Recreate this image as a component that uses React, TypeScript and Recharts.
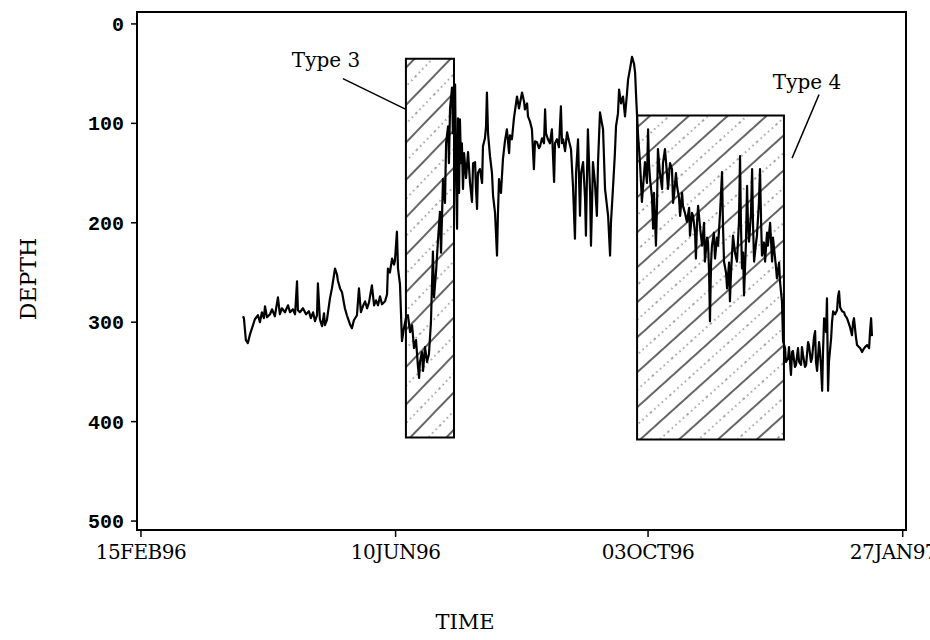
import {
  LineChart,
  Line,
  XAxis,
  YAxis,
  ReferenceArea,
  ReferenceLine,
  ReferenceDot,
  Label,
} from "recharts";

// time axis: days counted from 15FEB96
const tickDays = [0, 116, 231, 347];
const tickLabels = ["15FEB96", "10JUN96", "03OCT96", "27JAN97"];
const depthTicks = [0, 100, 200, 300, 400, 500];

// before the Type 3 period
const earlyDays = [
  46.5, 46.9, 47.8, 48.7, 49.7, 50.6, 51.9, 53.3, 54.2, 55.1, 56.0, 56.5, 57.4, 58.8, 59.7, 61.0,
  62.4, 63.3, 64.2, 65.6, 67.0, 67.9, 69.2, 70.2, 71.1, 71.5, 72.4, 73.8, 75.2, 76.5, 77.4, 78.4,
  79.3, 80.2, 80.6, 81.5, 82.5, 83.4, 83.8, 84.7, 86.1, 87.0, 88.4, 89.3, 89.7, 90.7, 91.6, 92.9,
  93.8, 95.2, 96.1, 97.0, 98.4, 99.3, 100.2, 101.1, 102.1, 103.0, 103.9, 105.2, 106.2, 107.1,
  108.0, 108.9, 109.8, 111.2, 112.1, 112.5, 113.4, 114.4, 115.3, 115.7, 116.6, 117.1, 118.0, 118.9,
];
const earlyDepth = [
  294, 296, 318, 321, 312, 306, 297, 293, 300, 290, 296, 284, 295, 292, 287, 294,
  275, 292, 286, 290, 283, 290, 287, 292, 259, 288, 290, 286, 292, 289, 296, 290,
  299, 293, 261, 297, 304, 291, 303, 298, 276, 266, 246, 252, 258, 266, 270, 286,
  293, 302, 306, 298, 293, 266, 290, 284, 279, 286, 280, 263, 283, 278,
  283, 274, 282, 279, 272, 246, 250, 236, 242, 238, 209, 246, 262, 319,
];

// Type 3 period
const type3Days = [
  119.8, 120.7, 121.6, 122.6, 123.5, 124.4, 125.3, 126.2, 126.7, 127.1, 128.0, 128.5, 129.4, 130.3,
  131.2, 132.1, 133.0, 133.5, 134.4, 135.3, 136.2, 136.7, 137.6, 138.5, 139.0, 139.9, 140.3, 140.8,
  141.7, 142.1, 143.1,
];
const type3Depth = [
  306, 296, 293, 310, 303, 326, 318, 345, 356, 340, 330, 349, 325, 340,
  332, 300, 229, 275, 250, 218, 189, 230, 156, 180, 120, 103, 140, 85,
  64, 110, 61,
];

// summer, between the two periods
const midDays = [
  143.5, 144.0, 144.4, 144.9, 145.3, 145.8, 146.2, 146.7, 147.2, 148.1, 149.0, 149.9, 150.8, 151.3,
  152.2, 152.6, 153.1, 153.5, 154.4, 155.4, 155.8, 156.7, 157.2, 157.6, 158.1, 159.0, 159.9, 160.4,
  161.3, 162.2, 162.6, 163.1, 164.0, 164.9, 165.8, 166.7, 167.7, 168.1, 169.0, 169.9, 171.3, 172.2,
  173.6, 174.5, 174.9, 175.9, 176.3, 177.2, 178.1, 179.0, 179.5, 180.4, 181.3, 181.8, 182.7, 183.6,
  184.1, 184.5, 185.4, 186.3, 187.2, 188.2, 188.6, 189.5, 190.4, 191.3, 191.8, 192.3, 193.2, 194.1,
  195.0, 195.9, 196.8, 197.7, 198.2, 199.1, 200.0, 200.5, 201.4, 202.3, 202.7, 203.2, 203.6, 204.6,
  205.0, 205.5, 205.9, 206.8, 207.7, 208.2, 209.1, 210.0, 210.5, 211.4, 212.8, 213.7, 214.1, 215.0,
  215.9, 216.4, 217.3, 217.8, 218.7, 219.6, 220.5, 221.4, 221.9, 222.8, 223.7, 224.6, 225.1, 225.5,
  226.0,
];
const midDepth = [
  150, 206, 95, 170, 96, 140, 120, 166, 130, 155, 129, 160, 179, 140,
  139, 165, 186, 150, 146, 160, 123, 115, 103, 69, 110, 133, 150, 173,
  190, 233, 193, 156, 170, 136, 118, 106, 130, 112, 116, 95, 73, 85,
  69, 78, 86, 80, 93, 98, 106, 146, 118, 119, 125, 123, 115, 120,
  86, 110, 116, 120, 106, 159, 120, 116, 124, 83, 120, 116, 128, 109,
  118, 126, 163, 216, 150, 116, 193, 150, 139, 175, 213, 150, 106, 170,
  223, 180, 139, 160, 193, 140, 89, 100, 106, 166, 193, 233, 200, 166,
  130, 103, 90, 66, 80, 73, 93, 70, 56, 45, 33, 40, 49, 70,
  93,
];

// Type 4 period
const type4Days = [
  226.4, 227.3, 227.8, 228.2, 229.2, 229.6, 230.5, 231.0, 231.4, 231.9, 232.8, 233.3, 233.7, 234.6,
  235.1, 235.5, 236.4, 237.4, 237.8, 238.7, 239.6, 240.1, 241.0, 241.9, 242.4, 242.8, 243.7, 244.2,
  245.1, 245.6, 246.5, 246.9, 247.8, 248.7, 249.7, 250.1, 251.0, 251.5, 252.4, 252.8, 253.3, 253.8,
  254.7, 255.6, 256.5, 256.9, 257.9, 258.3, 258.8, 259.2, 259.7, 260.1, 261.0, 261.5, 262.4, 262.9,
  263.8, 264.7, 265.1, 265.6, 266.5, 267.0, 267.9, 268.3, 268.8, 269.7, 270.6, 271.5, 272.4, 272.9,
  273.3, 273.8, 274.3, 274.7, 275.6, 276.1, 276.5, 277.0, 277.9, 278.4, 278.8, 279.3, 280.2, 280.6,
  281.5, 282.0, 282.5, 282.9, 283.8, 284.3, 285.2, 285.6, 286.6, 287.5, 287.9, 288.4, 289.3, 289.7,
  290.7, 291.1, 292.0,
];
const type4Depth = [
  110, 139, 160, 179, 150, 139, 160, 106, 140, 156, 175, 206, 170, 223,
  180, 126, 150, 166, 140, 126, 150, 166, 140, 146, 180, 173, 150, 163,
  175, 193, 170, 183, 190, 199, 185, 213, 190, 193, 210, 236, 200, 183,
  205, 223, 200, 239, 215, 219, 250, 299, 240, 223, 210, 236, 215, 223,
  190, 149, 200, 239, 250, 266, 240, 279, 250, 213, 230, 239, 200, 133,
  200, 246, 230, 273, 220, 163, 200, 219, 190, 146, 200, 239, 220, 213,
  180, 146, 200, 233, 220, 239, 210, 223, 200, 239, 215, 226, 245, 256,
  240, 259, 279,
];

// after the Type 4 period
const lateDays = [
  292.5, 293.4, 293.8, 294.8, 295.2, 296.1, 296.6, 297.0, 297.9, 298.4, 299.3, 299.8, 300.7, 301.1,
  301.6, 302.5, 303.0, 303.9, 304.3, 305.2, 305.7, 306.6, 307.1, 307.5, 308.0, 308.9, 309.3, 309.8,
  310.3, 310.7, 311.2, 312.1, 312.5, 313.0, 313.4, 314.4, 314.8, 315.3, 316.2, 317.1, 317.5, 318.0,
  318.5, 319.4, 320.3, 320.7, 321.6, 322.1, 323.0, 323.9, 324.4, 324.8, 325.7, 326.2, 327.1, 327.6,
  328.5, 328.9, 329.8, 330.8, 331.7, 332.1, 332.6, 333.0,
];
const lateDepth = [
  319, 326, 340, 336, 325, 353, 330, 329, 345, 343, 326, 340, 343, 325,
  333, 345, 343, 320, 323, 340, 336, 315, 309, 340, 349, 320, 329, 345,
  369, 330, 296, 310, 276, 369, 340, 316, 300, 289, 292, 288, 275, 269,
  285, 289, 290, 293, 296, 299, 305, 313, 300, 296, 315, 323, 325, 326,
  330, 328, 325, 323, 326, 310, 296, 314,
];

// shaded periods: [start day, end day, top depth, bottom depth]
const type3Box = [120.7, 142.6, 35, 416];
const type4Box = [226.0, 292.9, 92, 418];

const allDays = [...earlyDays, ...type3Days, ...midDays, ...type4Days, ...lateDays];
const allDepth = [...earlyDepth, ...type3Depth, ...midDepth, ...type4Depth, ...lateDepth];
const data = allDays.map((day, i) => ({ day, depth: allDepth[i] }));

const xDomain = [-1.8, 348.5];
const yDomain = [-12, 509];

const SERIF = "'DejaVu Serif', 'Liberation Serif', serif";
const MONO = "'Liberation Mono', 'DejaVu Sans Mono', monospace";

const axisLine = { stroke: "#000", strokeWidth: 2 };

export default function App() {
  return (
    <div style={{ position: "absolute", left: 0, top: 0, width: 930, height: 640, background: "#fff" }}>
      <LineChart
        width={930}
        height={640}
        data={data}
        margin={{ top: 12, right: 24, bottom: 70, left: 77 }}
      >
        <defs>
          <pattern id="hatch3" patternUnits="userSpaceOnUse" width="26" height="26" patternTransform="rotate(44)">
            <line x1="1" y1="0" x2="1" y2="26" stroke="#111" strokeWidth="1.3" />
            <line x1="14" y1="0" x2="14" y2="26" stroke="#444" strokeWidth="1" strokeDasharray="1.5 3.5" />
          </pattern>
          <pattern id="hatch4" patternUnits="userSpaceOnUse" width="26" height="26" patternTransform="rotate(48)">
            <line x1="1" y1="0" x2="1" y2="26" stroke="#111" strokeWidth="1.3" />
            <line x1="14" y1="0" x2="14" y2="26" stroke="#444" strokeWidth="1" strokeDasharray="1.5 3.5" />
          </pattern>
        </defs>

        <XAxis
          dataKey="day"
          type="number"
          domain={xDomain}
          allowDataOverflow
          ticks={tickDays}
          tickFormatter={(v) => tickLabels[tickDays.indexOf(v)] ?? ""}
          height={40}
          tickSize={7}
          tickMargin={8}
          axisLine={axisLine}
          tickLine={{ stroke: "#000", strokeWidth: 1.5 }}
          tick={{ fill: "#000", fontFamily: SERIF, fontSize: 20, letterSpacing: -0.5 }}
        >
          <Label
            content={({ viewBox }: any) => (
              <text
                x={viewBox.x + 328}
                y={viewBox.y + 92}
                textAnchor="middle"
                dominantBaseline="central"
                fontFamily={SERIF}
                fontSize={21}
                fill="#000"
              >
                TIME
              </text>
            )}
          />
        </XAxis>
        <YAxis
          type="number"
          domain={yDomain}
          allowDataOverflow
          reversed
          ticks={depthTicks}
          width={60}
          tickSize={6}
          tickMargin={7}
          axisLine={axisLine}
          tickLine={{ stroke: "#000", strokeWidth: 1.5 }}
          tick={{ fill: "#000", fontFamily: MONO, fontWeight: "bold", fontSize: 20 }}
        >
          <Label
            content={({ viewBox }: any) => {
              const cx = viewBox.x - 49;
              const cy = viewBox.y + viewBox.height / 2 + 8;
              return (
                <text
                  x={cx}
                  y={cy}
                  transform={`rotate(-90, ${cx}, ${cy})`}
                  textAnchor="middle"
                  dominantBaseline="central"
                  fontFamily={SERIF}
                  fontSize={22}
                  fill="#000"
                >
                  DEPTH
                </text>
              );
            }}
          />
        </YAxis>

        {/* plot frame */}
        <ReferenceArea
          x1={xDomain[0]}
          x2={xDomain[1]}
          y1={yDomain[0]}
          y2={yDomain[1]}
          fill="none"
          stroke="#000"
          strokeWidth={2}
          ifOverflow="visible"
        />

        <ReferenceArea
          x1={type3Box[0]}
          x2={type3Box[1]}
          y1={type3Box[2]}
          y2={type3Box[3]}
          fill="url(#hatch3)"
          fillOpacity={1}
          stroke="#000"
          strokeWidth={2}
        />
        <ReferenceArea
          x1={type4Box[0]}
          x2={type4Box[1]}
          y1={type4Box[2]}
          y2={type4Box[3]}
          fill="url(#hatch4)"
          fillOpacity={1}
          stroke="#000"
          strokeWidth={2}
        />

        <Line
          type="linear"
          dataKey="depth"
          stroke="#000"
          strokeWidth={2.2}
          strokeLinejoin="round"
          dot={false}
          isAnimationActive={false}
        />

        {/* period labels with leader lines */}
        <ReferenceLine
          segment={[{ x: 92.0, y: 55 }, { x: type3Box[0], y: 86 }]}
          stroke="#000"
          strokeWidth={1.5}
          ifOverflow="visible"
        />
        <ReferenceLine
          segment={[{ x: 308.9, y: 71 }, { x: 296.6, y: 135 }]}
          stroke="#000"
          strokeWidth={1.5}
          ifOverflow="visible"
        />
        <ReferenceDot
          x={84.3}
          y={36}
          r={0}
          fill="none"
          stroke="none"
          label={{ value: "Type 3", position: "center", fontFamily: SERIF, fontSize: 20, fill: "#000" }}
        />
        <ReferenceDot
          x={303.4}
          y={58}
          r={0}
          fill="none"
          stroke="none"
          label={{ value: "Type 4", position: "center", fontFamily: SERIF, fontSize: 20, fill: "#000" }}
        />
      </LineChart>
    </div>
  );
}
